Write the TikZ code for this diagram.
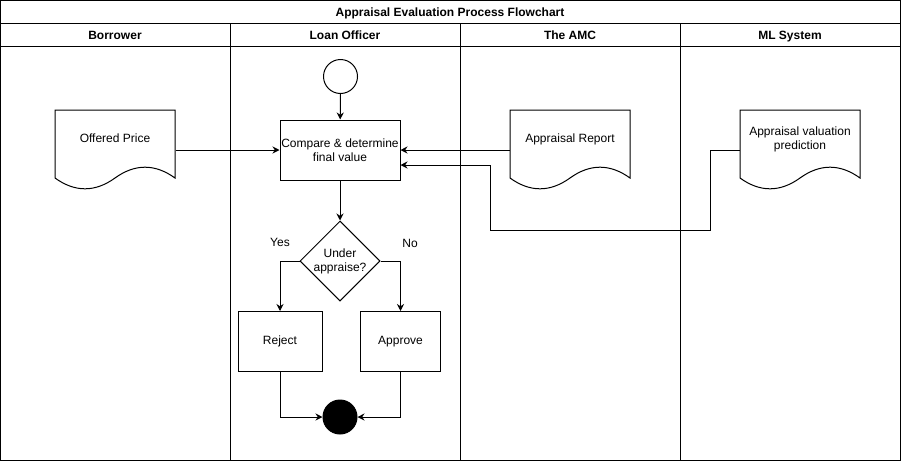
\documentclass[tikz,border=0pt]{standalone}
\usepackage{fontspec}
\setmainfont{Liberation Sans}
\usetikzlibrary{arrows.meta,shapes.geometric}

\begin{document}
\begin{tikzpicture}[x=1pt,y=-1pt,line width=1pt,font=\fontsize{12}{14}\selectfont,
  >={Stealth[length=7pt,width=7pt]},
  lane/.style={anchor=base,font=\bfseries\fontsize{12}{14}\selectfont},
  box/.style={draw,minimum height=60pt,align=center,inner sep=1pt},
  docbox/.style={minimum width=120pt,minimum height=80pt,inner sep=0pt},
  term/.style={draw,circle,minimum size=34pt,inner sep=0pt}]
\useasboundingbox (0,0) rectangle (901,461);
% pool and lanes
\draw (0.5,0.5) rectangle (900.5,460.5);
\draw (0.5,23.5) -- (900.5,23.5);
\draw (0.5,46.5) -- (900.5,46.5);
\draw (230.5,23.5) -- (230.5,460.5);
\draw (460.5,23.5) -- (460.5,460.5);
\draw (680.5,23.5) -- (680.5,460.5);
\node[lane] (title) at (450,16.5) {Appraisal Evaluation Process Flowchart};
\node[lane] (borrower) at (115,39.5) {Borrower};
\node[lane] (officer) at (345,39.5) {Loan Officer};
\node[lane] (amc) at (570,39.5) {The AMC};
\node[lane] (mlsys) at (790,39.5) {ML System};
% documents
\foreach \cx in {115,570,800}
  \draw[shift={(\cx-60,110)}] (0,0) -- (120,0) -- (120,68)
    .. controls (100,53.6) and (80,53.6) .. (60,68)
    .. controls (40,82.4) and (20,82.4) .. (0,68) -- cycle;
\node[docbox] (offer) at (115,150) {};
\node (offertxt) at (115,138.5) {Offered Price};
\node[docbox] (report) at (570,150) {};
\node (reporttxt) at (570,139.5) {Appraisal Report};
\node[docbox] (predict) at (800,150) {};
\node[align=center] (predicttxt) at (800,139) {Appraisal valuation\\prediction};
% flow
\node[term] (start) at (340.5,76.5) {};
\node[box,minimum width=120pt] (compare) at (340,150) {Compare \& determine\\final value};
\node[draw,diamond,aspect=1,minimum size=80pt,inner sep=-2pt,align=center] (under) at (340,261) {Under\\appraise?};
\node[box,minimum width=84pt] (reject) at (280,341.5) {Reject};
\node[box,minimum width=80pt] (approve) at (400.5,341.5) {Approve};
\node[term,fill] (stop) at (340,417) {};
\node (yes) at (280,242) {Yes};
\node (no) at (410,243) {No};
\draw[->] (start) -- (compare);
\draw[->] (offer) -- (compare);
\draw[->] (report) -- (compare);
\draw[->] (predict.west) -| (710,230) -| (490,165) -- ([yshift=-15pt]compare.east);
\draw[->] (compare) -- (under);
\draw[->] (under.west) -| (reject.north);
\draw[->] (under.east) -| (approve.north);
\draw[->] (reject.south) |- (stop.west);
\draw[->] (approve.south) |- (stop.east);
\end{tikzpicture}
\end{document}
